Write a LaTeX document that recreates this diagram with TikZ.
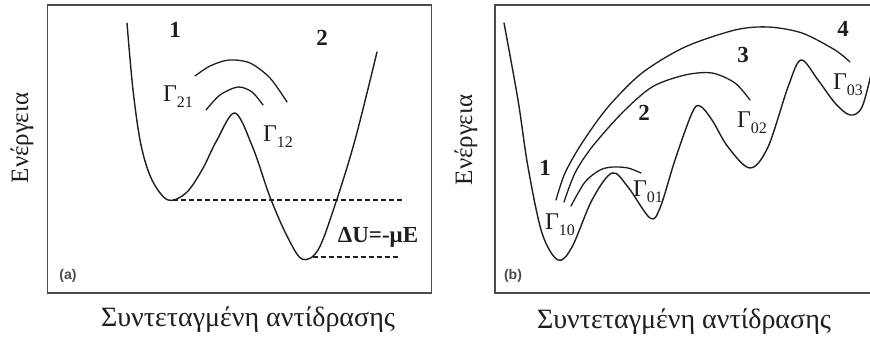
\documentclass[tikz,border=0pt]{standalone}
\usepackage{fontspec}
\setmainfont{Liberation Serif}
\newfontfamily\panelsans{Liberation Sans}
\usepackage{tikz}
\usetikzlibrary{calc}
\definecolor{Ink}{HTML}{1E1E1E}
\definecolor{Frame}{HTML}{4A4A4A}
\tikzset{
  frame/.style={draw=Frame,line width=1.8pt},
  curve/.style={draw=Ink,line width=1.4pt,line cap=round,line join=round},
  arc/.style={draw=Ink,line width=1.3pt,line cap=round},
  level/.style={draw=Ink,line width=1.1pt,dash pattern=on 5pt off 3pt},
  num/.style={font=\fontsize{23}{24}\selectfont\bfseries,text=Ink,inner sep=0pt},
  rate/.style={font=\fontsize{24}{24}\selectfont,text=Ink,inner sep=0pt},
  axis/.style={font=\fontsize{28}{30}\selectfont,text=Ink,inner sep=0pt},
  tag/.style={font=\panelsans\fontsize{14}{15}\selectfont\bfseries,text=Frame,inner sep=0pt}
}
\newcommand{\gsub}[1]{Γ\lower6pt\hbox{\fontsize{16}{16}\selectfont #1}}
\begin{document}
\begin{tikzpicture}[x=1pt,y=-1pt]
\useasboundingbox (0,0) rectangle (870,339);
% panel (a): double well
\draw[frame] (47.5,5) rectangle (431.5,293);
\draw[curve] plot[smooth,tension=0.55] coordinates {(127,23) (133,90) (141,145) (152,180) (168,200) (186,193) (202,170) (217,140) (235,113) (253,148) (270,197) (287,236) (302,259) (318,250) (335,205) (355,140) (377,52)};
\draw[level] (173,200) -- (403,200);
\draw[level] (313,257) -- (400,257);
\draw[arc] plot[smooth] coordinates {(206,110) (220,95) (238,87) (252,92) (263,105)};
\draw[arc] plot[smooth] coordinates {(195,76) (210,66) (229,60) (250,63) (270,78) (287,102)};
\node[num] (a1) at (175,30) {1};
\node[num] (a2) at (322,38) {2};
\node[rate] (g21) at (178,97) {\gsub{21}};
\node[rate] (g12) at (278,137) {\gsub{12}};
\node[num] (du) at (378,237) {ΔU=-μE};
\node[tag] (ta) at (68,276) {(a)};
\node[axis,rotate=90,font=\fontsize{25}{26}\selectfont] (ya) at (22,138) {Ενέργεια};
\node[axis] (xa) at (248,320) {Συντεταγμένη αντίδρασης};
% panel (b): staircase of wells
\draw[frame] (872,5) -- (495,5) -- (495,293) -- (872,293);
\draw[curve] plot[smooth,tension=0.55] coordinates {(504,23) (518,100) (528,167) (542,233) (558,260) (572,247) (592,200) (612,173) (628,187) (650,218) (660,208) (675,160) (692,113) (700,106) (712,120) (728,147) (750,168) (768,147) (788,87) (801,60) (818,80) (835,103) (850,115) (862,107) (872,70)};
\draw[arc] plot[smooth] coordinates {(571,206) (585,182) (600,170) (613,167) (628,168) (641,173)};
\draw[arc] plot[smooth] coordinates {(564,202) (575,173) (592,147) (622,113) (652,87) (685,75) (712,73) (735,83) (750,100)};
\draw[arc] plot[smooth] coordinates {(556,200) (565,173) (582,143) (608,107) (642,73) (685,47) (735,30) (768,27) (802,33) (835,50) (850,62)};
\node[num] (b1) at (545,168) {1};
\node[num] (b2) at (644,113) {2};
\node[num] (b3) at (743,55) {3};
\node[num] (b4) at (843,29) {4};
\node[rate] (g10) at (560,225) {\gsub{10}};
\node[rate] (g01) at (648,192) {\gsub{01}};
\node[rate] (g02) at (752,123) {\gsub{02}};
\node[rate] (g03) at (848,85) {\gsub{03}};
\node[tag] (tb) at (513,276) {(b)};
\node[axis,rotate=90,font=\fontsize{25}{26}\selectfont] (yb) at (466,140) {Ενέργεια};
\node[axis] (xb) at (684,322) {Συντεταγμένη αντίδρασης};
\end{tikzpicture}
\end{document}
